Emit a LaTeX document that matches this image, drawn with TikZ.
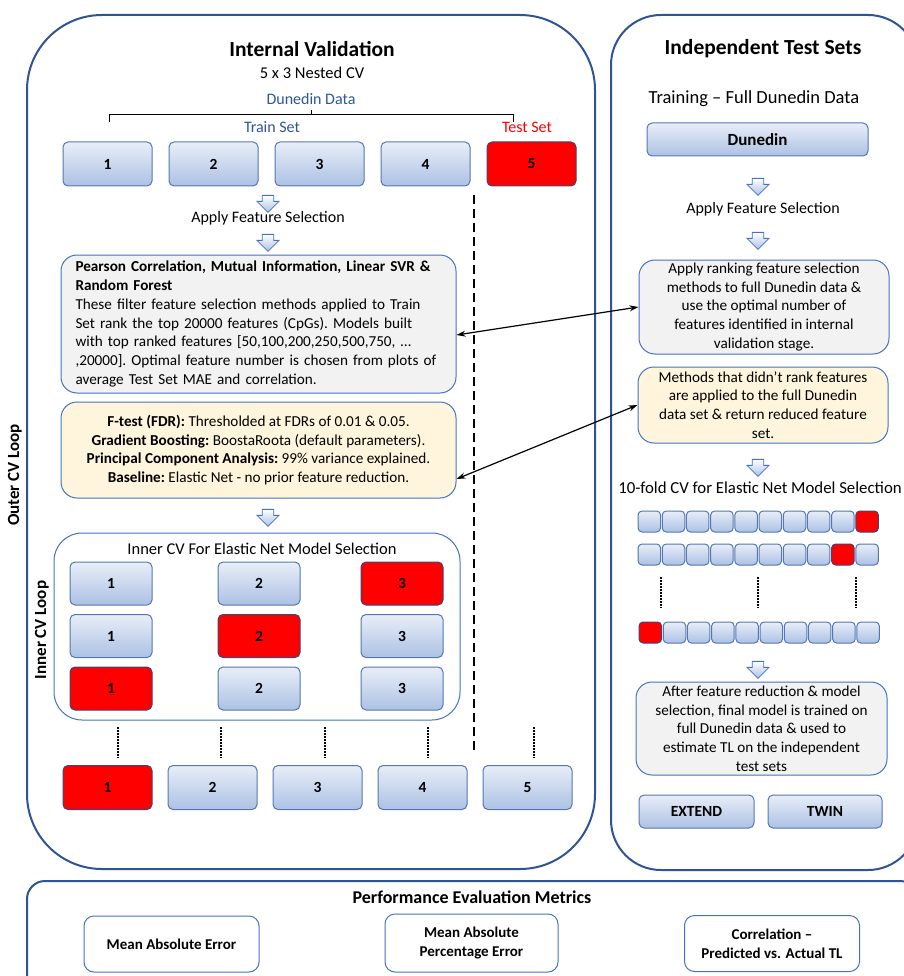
\documentclass[tikz,border=0pt]{standalone}
\usepackage{fontspec}
\setmainfont{Carlito}
\usetikzlibrary{shapes.arrows,arrows.meta}
\definecolor{panelblue}{RGB}{47,84,150}
\definecolor{boxline}{RGB}{68,114,196}
\definecolor{foldline}{RGB}{85,118,176}
\definecolor{foldtop}{RGB}{232,238,248}
\definecolor{foldbot}{RGB}{172,193,228}
\definecolor{redline}{RGB}{60,70,120}
\definecolor{greyfill}{RGB}{242,242,242}
\definecolor{creamfill}{RGB}{255,245,220}
\definecolor{datablue}{RGB}{47,85,151}

\begin{document}
\begin{tikzpicture}[x=1pt, y=-1pt, >={Stealth[length=9pt,width=6pt]}, node distance=106pt,
  fbox/.style={rounded corners=5pt, minimum width=89pt, minimum height=44pt, inner sep=0pt, line width=1pt, font=\fontsize{15.5}{17}\selectfont\bfseries},
  fold/.style={fbox, draw=foldline, top color=foldtop, bottom color=foldbot},
  testfold/.style={fbox, draw=redline, fill=red},
  ifold/.style={fold, minimum width=82pt, minimum height=43pt, node distance=52.5pt},
  itestfold/.style={testfold, minimum width=82pt, minimum height=43pt, node distance=52.5pt},
  cell/.style={fold, rounded corners=4pt, minimum width=22.5pt, minimum height=21pt, node distance=24.2pt},
  testcell/.style={testfold, rounded corners=4pt, minimum width=22.5pt, minimum height=21pt, node distance=24.2pt},
  note/.style={draw=boxline, line width=1pt, rounded corners=16pt, inner sep=0pt, font=\fontsize{15.2}{18.7}\selectfont\frenchspacing},
  metric/.style={draw=boxline, line width=1pt, rounded corners=10pt, minimum width=175pt, minimum height=56pt, align=center, font=\fontsize{15}{19}\selectfont\bfseries},
  dropar/.style={single arrow, draw=boxline, line width=0.8pt, top color=white, bottom color=foldbot, shape border rotate=270, minimum height=17pt, minimum width=22pt, inner sep=5pt, single arrow head extend=5pt},
  panel/.style={draw=panelblue, line width=2pt},
  loop/.style={rotate=90, font=\fontsize{17}{19}\selectfont\bfseries},
  body/.style={font=\fontsize{16}{19}\selectfont},
  title/.style={font=\fontsize{21.5}{24}\selectfont\bfseries},
  dotline/.style={line width=2pt, dash pattern=on 1.5pt off 1.5pt}
]
\useasboundingbox (0,0) rectangle (903,976);

\draw[panel, rounded corners=75pt] (27,15) rectangle (595,869);
\draw[panel, rounded corners=50pt] (611,15) rectangle (918,870);
\draw[panel, rounded corners=18pt] (27,881) rectangle (918,1010);

\node[title] (ivtitle) at (312,49) {Internal Validation};
\node[font=\fontsize{16.5}{19}\selectfont] (nested) at (312,73) {5 x 3 Nested CV};
\node[body, text=datablue] (dundata) at (311,99) {Dunedin Data};
\draw[line width=1pt] (109,122) -- (109,115) -- (513,115) -- (513,122);
\draw[line width=1pt] (311,115) -- (311,110);
\node[body, text=datablue] (trainset) at (272,127) {Train Set};
\node[body, text=red] (testset) at (527,127) {Test Set};

\node[fold] (t1) at (107.5,164) {1};
\node[fold, right of=t1] (t2) {2};
\node[fold, right of=t2] (t3) {3};
\node[fold, right of=t3] (t4) {4};
\node[testfold, right of=t4] (t5) {5};

\node[dropar] (ar1) at (268,201) {};
\node[body] (apply) at (268,218) {Apply Feature Selection};
\node[dropar] (ar2) at (268,240) {};

\node[note, fill=greyfill, minimum width=395pt, minimum height=138pt, text width=366pt, align=left] (gl) at (258.5,324)
  {\textbf{Pearson Correlation, Mutual Information, Linear SVR \&}\\
   \textbf{Random Forest}\\
   These filter feature selection methods applied to Train\\
   Set rank the top 20000 features (CpGs). Models built\\
   with top ranked features [50,100,200,250,500,750, …\\
   ,20000]. Optimal feature number is chosen from plots of\\
   average Test Set MAE and correlation.};
\node[note, fill=creamfill, minimum width=395pt, minimum height=96pt, align=center] (yl) at (258.5,450)
  {\textbf{F-test (FDR):} Thresholded at FDRs of 0.01 \& 0.05.\\
   \textbf{Gradient Boosting:} BoostaRoota (default parameters).\\
   \textbf{Principal Component Analysis:} 99\% variance explained.\\
   \textbf{Baseline:} Elastic Net - no prior feature reduction.};

\node[dropar] (ar3) at (268,515) {};

\node[draw=boxline, line width=1pt, rounded corners=28pt, minimum width=406pt, minimum height=187pt] (inner) at (257,626.5) {};
\node[body, font=\fontsize{16.5}{19}\selectfont] (innertitle) at (262,549) {Inner CV For Elastic Net Model Selection};
\node[ifold] (i11) at (111,583.5) {1};
\node[ifold, below of=i11] (i21) {1};
\node[itestfold, below of=i21] (i31) {1};
\node[ifold] (i12) at (259,583.5) {2};
\node[itestfold, below of=i12] (i22) {2};
\node[ifold, below of=i22] (i32) {2};
\node[itestfold] (i13) at (402,583.5) {3};
\node[ifold, below of=i13] (i23) {3};
\node[ifold, below of=i23] (i33) {3};
\node[loop] (innerloop) at (42,630) {Inner CV Loop};
\node[loop] (outerloop) at (15,475) {Outer CV Loop};

\coordinate (dtop) at (474,195);
\coordinate (dbot) at (474,754);
\draw[line width=2pt, dash pattern=on 9pt off 5pt] (dtop) -- (dbot);

\node[testfold] (b1) at (107.5,787.5) {1};
\node[fold, node distance=105pt, right of=b1] (b2) {2};
\node[fold, node distance=105pt, right of=b2] (b3) {3};
\node[fold, node distance=105pt, right of=b3] (b4) {4};
\node[fold, node distance=105pt, right of=b4] (b5) {5};
\draw[dotline] (118,727) -- (118,758);
\draw[dotline] (221,727) -- (221,758);
\draw[dotline] (325,727) -- (325,758);
\draw[dotline] (428,727) -- (428,758);
\draw[dotline] (534,727) -- (534,758);

\node[title] (ittitle) at (763,49) {Independent Test Sets};
\node[font=\fontsize{18.5}{21}\selectfont] (training) at (754,99) {Training – Full Dunedin Data};
\node[fold, minimum width=221pt, minimum height=33pt, font=\fontsize{17}{19}\selectfont\bfseries] (dun) at (757.5,139.5) {Dunedin};
\node[dropar] (ar4) at (758,184) {};
\node[body] (apply2) at (763,209) {Apply Feature Selection};
\node[dropar] (ar5) at (758,238) {};
\node[note, fill=greyfill, minimum width=250pt, minimum height=94pt, align=center] (gr) at (764,307)
  {Apply ranking feature selection\\
   methods to full Dunedin data \&\\
   use the optimal number of\\
   features identified in internal\\
   validation stage.};
\node[note, fill=creamfill, minimum width=250pt, minimum height=76pt, align=center] (yr) at (763,405)
  {Methods that didn’t rank features\\
   are applied to the full Dunedin\\
   data set \& return reduced feature\\
   set.};
\node[dropar] (ar6) at (758,465) {};
\node[font=\fontsize{16.8}{20}\selectfont] (tenfold) at (760,488) {10-fold CV for Elastic Net Model Selection};

\node[cell] (p1) at (649.3,521.5) {};
\node[cell, right of=p1] (p2) {};
\node[cell, right of=p2] (p3) {};
\node[cell, right of=p3] (p4) {};
\node[cell, right of=p4] (p5) {};
\node[cell, right of=p5] (p6) {};
\node[cell, right of=p6] (p7) {};
\node[cell, right of=p7] (p8) {};
\node[cell, right of=p8] (p9) {};
\node[testcell, right of=p9] (p10) {};
\node[cell] (q1) at (649.3,554.5) {};
\node[cell, right of=q1] (q2) {};
\node[cell, right of=q2] (q3) {};
\node[cell, right of=q3] (q4) {};
\node[cell, right of=q4] (q5) {};
\node[cell, right of=q5] (q6) {};
\node[cell, right of=q6] (q7) {};
\node[cell, right of=q7] (q8) {};
\node[testcell, right of=q8] (q9) {};
\node[cell, right of=q9] (q10) {};
\node[testcell] (r1) at (650.3,632.5) {};
\node[cell, right of=r1] (r2) {};
\node[cell, right of=r2] (r3) {};
\node[cell, right of=r3] (r4) {};
\node[cell, right of=r4] (r5) {};
\node[cell, right of=r5] (r6) {};
\node[cell, right of=r6] (r7) {};
\node[cell, right of=r7] (r8) {};
\node[cell, right of=r8] (r9) {};
\node[cell, right of=r9] (r10) {};
\draw[dotline] (661,577) -- (661,608);
\draw[dotline] (758,577) -- (758,608);
\draw[dotline] (856,577) -- (856,608);

\node[dropar] (ar7) at (758,667) {};
\node[note, fill=greyfill, minimum width=251pt, minimum height=93pt, align=center] (final) at (761.5,728.5)
  {After feature reduction \& model\\
   selection, final model is trained on\\
   full Dunedin data \& used to\\
   estimate TL on the independent\\
   test sets};
\node[fold, minimum width=115pt, minimum height=33pt] (extend) at (696.5,811.5) {EXTEND};
\node[fold, minimum width=114pt, minimum height=33pt] (twin) at (825,811.5) {TWIN};

\node[font=\fontsize{18}{21}\selectfont\bfseries] (pemtitle) at (472,897) {Performance Evaluation Metrics};
\node[metric] (mae) at (171.5,944) {Mean Absolute Error};
\node[metric, minimum width=173pt, minimum height=58pt] (mape) at (471.5,943) {Mean Absolute\\ Percentage Error};
\node[metric] (corr) at (772,943.5) {Correlation –\\ Predicted vs. Actual TL};

\path[line width=1.2pt]
([yshift=-11pt]gl.east) edge[<->] (gr.west)
([yshift=-29pt]yl.east) edge[<->] (yr.west)
;
\end{tikzpicture}
\end{document}
